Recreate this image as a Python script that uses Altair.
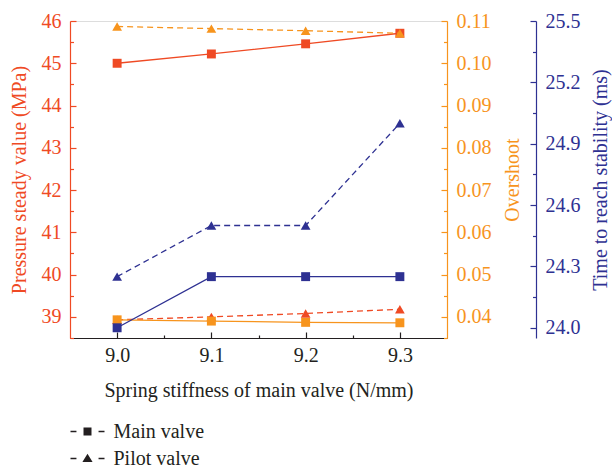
import altair as alt
import pandas as pd

# ---- data ----
stiffness = [9.0, 9.1, 9.2, 9.3]
pressure_main = [45.0, 45.22, 45.46, 45.71]
pressure_pilot = [38.93, 39.0, 39.08, 39.18]
overshoot_main = [0.0393, 0.0390, 0.0387, 0.0386]
overshoot_pilot = [0.1087, 0.1082, 0.1077, 0.1071]
time_main = [24.0, 24.25, 24.25, 24.25]
time_pilot = [24.25, 24.5, 24.5, 25.0]
valves = ["Main valve", "Pilot valve"]

x_major = [9.0, 9.1, 9.2, 9.3]
x_minor = [9.05, 9.15, 9.25]
p_major = [39, 40, 41, 42, 43, 44, 45, 46]
p_minor = [38.5, 39.5, 40.5, 41.5, 42.5, 43.5, 44.5, 45.5]
o_major = [0.04, 0.05, 0.06, 0.07, 0.08, 0.09, 0.10, 0.11]
o_minor = [0.035, 0.045, 0.055, 0.065, 0.075, 0.085, 0.095, 0.105]
t_major = [24.0, 24.3, 24.6, 24.9, 25.2, 25.5]
t_minor = [24.15, 24.45, 24.75, 25.05, 25.35]

df = pd.DataFrame({
    "stiffness": stiffness,
    "pressure_main": pressure_main,
    "pressure_pilot": pressure_pilot,
    "overshoot_main": overshoot_main,
    "overshoot_pilot": overshoot_pilot,
    "time_main": time_main,
    "time_pilot": time_pilot,
})

# ---- style ----
FONT = "Liberation Serif"
FS = 20
RED = "#EF4A24"
ORANGE = "#F7941D"
BLUE = "#2E3192"
DARK = "#231F20"
W, H = 377, 317
BLUE_OFFSET = 89

xscale = alt.Scale(domain=[8.95, 9.35], nice=False, zero=False)


def label_axis(orient, values, fmt, color, title, title_pad, offset=0,
               baseline="bottom"):
    return alt.Axis(
        orient=orient, values=values, format=fmt, ticks=False, tickSize=0,
        domain=True, domainColor=color, domainWidth=1.2, grid=False,
        labelColor=color, labelFont=FONT, labelFontSize=FS, labelPadding=9,
        title=title, titleColor=color, titleFont=FONT, titleFontSize=FS,
        titleFontWeight="normal", titlePadding=title_pad, titleAngle=270,
        titleBaseline=baseline, offset=offset,
    )


def tick_axis(orient, values, test, color, offset, major=6, minor=3.5):
    return alt.Axis(
        orient=orient, values=values, labels=False, domain=False, grid=False,
        title=None, ticks=True, tickColor=color, tickWidth=1.2,
        tickSize={"condition": {"test": test, "value": major}, "value": minor},
        offset=offset,
    )


x_labels = alt.Axis(
    orient="bottom", values=x_major, format=".1f", ticks=False, tickSize=0,
    domain=True, domainColor=DARK, domainWidth=1.2, grid=False,
    labelColor=DARK, labelFont=FONT, labelFontSize=FS, labelPadding=7,
    title="Spring stiffness of main valve (N/mm)", titleColor=DARK,
    titleFont=FONT, titleFontSize=FS, titleFontWeight="normal", titlePadding=15,
)
x_ticks = tick_axis("top", x_major + x_minor,
                    "abs(datum.value*10 - round(datum.value*10)) < 0.01",
                    DARK, -H, major=6, minor=3)


def group(main_col, pilot_col, color, scale, y_lab, y_tck, x_lab, x_tck):
    main = alt.Chart(df).mark_line(
        color=color, strokeWidth=1.3,
        point=alt.OverlayMarkDef(shape="square", filled=True, size=80,
                                 color=color, opacity=1),
    ).encode(
        x=alt.X("stiffness:Q", scale=xscale, axis=x_lab),
        y=alt.Y(f"{main_col}:Q", scale=scale, axis=y_lab),
    )
    pilot = alt.Chart(df).mark_line(
        color=color, strokeWidth=1.3, strokeDash=[6, 4],
        point=alt.OverlayMarkDef(shape="triangle-up", filled=True, size=95,
                                 color=color, opacity=1),
    ).encode(
        x=alt.X("stiffness:Q", scale=xscale, axis=x_tck),
        y=alt.Y(f"{pilot_col}:Q", scale=scale, axis=y_tck),
    )
    return alt.layer(main, pilot).resolve_axis(x="independent", y="independent")


p_group = group(
    "pressure_main", "pressure_pilot", RED,
    alt.Scale(domain=[38.5, 46], nice=False, zero=False),
    label_axis("left", p_major, "d", RED, "Pressure steady value (MPa)", 12),
    tick_axis("right", p_major + p_minor,
              "abs(datum.value - round(datum.value)) < 0.01", RED, -W),
    x_labels, x_ticks,
)
o_group = group(
    "overshoot_main", "overshoot_pilot", ORANGE,
    alt.Scale(domain=[0.035, 0.11], nice=False, zero=False),
    label_axis("right", o_major, ".2f", ORANGE, "Overshoot", 11, baseline="top"),
    tick_axis("left", o_major + o_minor,
              "abs(datum.value*100 - round(datum.value*100)) < 0.01", ORANGE, -W),
    None, None,
)
t_group = group(
    "time_main", "time_pilot", BLUE,
    alt.Scale(domain=[23.95, 25.5], nice=False, zero=False),
    label_axis("right", t_major, ".1f", BLUE, "Time to reach stability (ms)", 10,
               offset=BLUE_OFFSET, baseline="top"),
    tick_axis("left", t_major + t_minor,
              "abs(datum.value*10/3 - round(datum.value*10/3)) < 0.01", BLUE,
              -(W + BLUE_OFFSET)),
    None, None,
)

# legend symbols: dash - marker - dash
SQ_PATH = ("M-2,-0.08H-1.3V0.08H-2Z "
           "M-0.47,-0.47H0.47V0.47H-0.47Z "
           "M1.3,-0.08H2V0.08H1.3Z")
TRI_PATH = ("M-2,-0.08H-1.3V0.08H-2Z "
            "M0,-0.55L0.6,0.42L-0.6,0.42Z "
            "M1.3,-0.08H2V0.08H1.3Z")

legend_df = pd.DataFrame({"valve": valves})
legend_layer = alt.Chart(legend_df).mark_point(filled=True, color=DARK).encode(
    shape=alt.Shape(
        "valve:N",
        scale=alt.Scale(domain=valves, range=[SQ_PATH, TRI_PATH]),
        legend=alt.Legend(
            title=None, orient="none", legendX=7.5, legendY=400.5, padding=0,
            symbolSize=289, symbolFillColor=DARK, symbolStrokeColor=DARK,
            symbolStrokeWidth=0, symbolOpacity=1,
            labelFont=FONT, labelFontSize=FS, labelColor=DARK,
            labelOffset=16, rowPadding=7,
        ),
    )
).transform_filter("false")

chart = alt.layer(p_group, o_group, t_group, legend_layer).resolve_scale(
    y="independent"
).resolve_axis(
    x="independent", y="independent"
).properties(
    width=W, height=H,
    padding={"left": 70, "top": 21, "right": 612 - 70 - W, "bottom": 467 - 21 - H},
    autosize="none",
).configure_view(stroke=None).configure(background="white")

chart.save("out.html", embed_options={"renderer": "svg", "actions": False})
